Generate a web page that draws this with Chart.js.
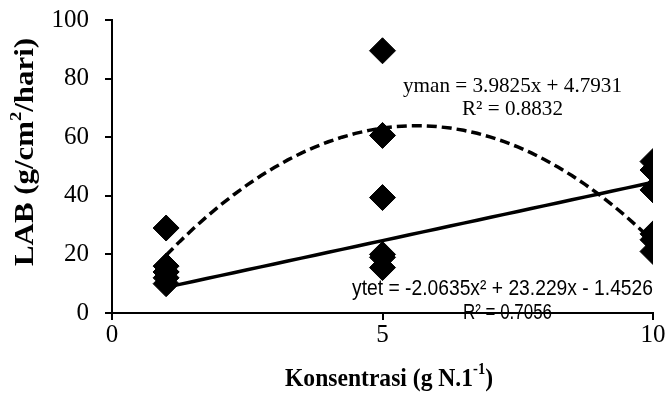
<!DOCTYPE html>
<html>
<head>
<meta charset="utf-8">
<script src="https://cdn.jsdelivr.net/npm/chart.js@4.4.1/dist/chart.umd.min.js"></script>
<style>
  html, body { margin: 0; padding: 0; background: #fff; }
  #wrap { width: 667px; height: 396px; }
</style>
</head>
<body>
<div id="wrap"><canvas id="c" width="667" height="396"></canvas></div>
<script>
// ---- data ----
const xCategories = [1, 5, 10];
const manX = [1, 1, 1, 5, 5, 5, 10, 10, 10];
const manY = [14, 12, 10, 20, 19, 15.5, 51.7, 48.8, 42];
const tetX = [1, 1, 1, 5, 5, 5, 10, 10, 10];
const tetY = [29, 16, 14, 89.5, 60.6, 39.4, 27, 25, 21];
// trend-line coefficients as printed in the chart
const manLinear = [3.9825, 4.7931];           // slope, intercept
const tetPoly = [-2.0635, 23.229, -1.4526];   // a, b, c
const xTicks = [0, 5, 10];
const yTicks = [0, 20, 40, 60, 80, 100];
const manLabel = ["yman = 3.9825x + 4.7931", "R² = 0.8832"];
const tetLabel = ["ytet = -2.0635x² + 23.229x - 1.4526", "R² = 0.7056"];
const xTitle = ["Konsentrasi (g N.1", "-1", ")"];
const yTitle = ["LAB (g/cm", "2", "/hari)"];

const pts = (xs, ys) => xs.map((x, i) => ({ x: x, y: ys[i] }));
const trendX = [];
for (let x = 1; x <= 10.0001; x += 0.25) trendX.push(+x.toFixed(2));
const linePts = trendX.map(x => ({ x: x, y: manLinear[0] * x + manLinear[1] }));
const polyPts = trendX.map(x => ({ x: x, y: tetPoly[0] * x * x + tetPoly[1] * x + tetPoly[2] }));

function drawRuns(ctx, runs, cx, cy, rot, targetW) {
  ctx.save();
  let total = 0;
  runs.forEach(r => { ctx.font = r.font; r.w = ctx.measureText(r.text).width; total += r.w; });
  const sx = targetW ? targetW / total : 1;
  ctx.translate(cx, cy);
  ctx.rotate(rot);
  ctx.scale(sx, 1);
  ctx.fillStyle = '#000';
  ctx.textBaseline = 'alphabetic';
  ctx.textAlign = 'left';
  let x = -total / 2;
  runs.forEach(r => { ctx.font = r.font; ctx.fillText(r.text, x, r.dy); x += r.w; });
  ctx.restore();
}

const textPlugin = {
  id: 'texts',
  beforeDraw(chart) {
    const ctx = chart.ctx;
    ctx.save();
    ctx.fillStyle = '#fff';
    ctx.fillRect(0, 0, chart.width, chart.height);
    ctx.restore();
    const serif = '"Liberation Serif", "Times New Roman", serif';
    const sans = '"Liberation Sans", Arial, sans-serif';
    drawRuns(ctx, [{ text: manLabel[0], font: '22px ' + serif, dy: 7 }], 512.5, 85, 0, 219);
    drawRuns(ctx, [{ text: manLabel[1], font: '22px ' + serif, dy: 7 }], 512.5, 108, 0, 101);
    drawRuns(ctx, [{ text: tetLabel[0], font: '22px ' + sans, dy: 7.5 }], 502.5, 287, 0, 301);
    drawRuns(ctx, [{ text: tetLabel[1], font: '22px ' + sans, dy: 7.5 }], 507.5, 311, 0, 89);
  },
  afterDraw(chart) {
    const ctx = chart.ctx;
    const serifB = 'bold 26px "Liberation Serif", "Times New Roman", serif';
    const serifBs = 'bold 16px "Liberation Serif", "Times New Roman", serif';
    drawRuns(ctx, [
      { text: xTitle[0], font: serifB, dy: 8.5 },
      { text: xTitle[1], font: serifBs, dy: -3 },
      { text: xTitle[2], font: serifB, dy: 8.5 }
    ], 389, 377, 0, 208);
    const serifBy = 'bold 28px "Liberation Serif", "Times New Roman", serif';
    const serifBys = 'bold 17px "Liberation Serif", "Times New Roman", serif';
    drawRuns(ctx, [
      { text: yTitle[0], font: serifBy, dy: 9 },
      { text: yTitle[1], font: serifBys, dy: -3 },
      { text: yTitle[2], font: serifBy, dy: 9 }
    ], 24, 152, -Math.PI / 2, 228);
  }
};

const tickFont = { family: '"Liberation Serif", "Times New Roman", serif', size: 25 };

new Chart(document.getElementById('c'), {
  type: 'scatter',
  data: {
    datasets: [
      { label: 'man fit', type: 'line', data: linePts, borderColor: '#000', borderWidth: 3.5,
        pointRadius: 0, fill: false, tension: 0, order: 3 },
      { label: 'tet fit', type: 'line', data: polyPts, borderColor: '#000', borderWidth: 3.5,
        borderDash: [10, 5], pointRadius: 0, fill: false, tension: 0, order: 3 },
      { label: 'man', data: pts(manX, manY), pointStyle: 'rectRot', pointRadius: 13,
        backgroundColor: '#000', borderColor: '#000', borderWidth: 1, order: 1 },
      { label: 'tet', data: pts(tetX, tetY), pointStyle: 'rectRot', pointRadius: 13,
        backgroundColor: '#000', borderColor: '#000', borderWidth: 1, order: 1 }
    ]
  },
  options: {
    responsive: false,
    devicePixelRatio: 1,
    animation: false,
    events: [],
    layout: { padding: { top: 20, right: 14, left: 0, bottom: 0 } },
    plugins: { legend: { display: false }, tooltip: { enabled: false } },
    scales: {
      x: {
        type: 'linear', min: 0, max: 10,
        afterBuildTicks: s => { s.ticks = xTicks.map(v => ({ value: v })); },
        ticks: { font: tickFont, color: '#000', padding: 0, maxRotation: 0 },
        grid: { drawOnChartArea: false, drawTicks: true, tickLength: 7, color: '#000', lineWidth: 2 },
        border: { display: true, color: '#000', width: 2 },
        afterFit: s => { s.height = 83; s.paddingLeft = 0; s.paddingRight = 0; }
      },
      y: {
        type: 'linear', min: 0, max: 100,
        afterBuildTicks: s => { s.ticks = yTicks.map(v => ({ value: v })); },
        ticks: { font: tickFont, color: '#000', padding: 16 },
        grid: { drawOnChartArea: false, drawTicks: true, tickLength: 7, color: '#000', lineWidth: 2 },
        border: { display: true, color: '#000', width: 2 },
        afterFit: s => { s.width = 112; s.paddingTop = 0; s.paddingBottom = 0; }
      }
    }
  },
  plugins: [textPlugin]
});
</script>
</body>
</html>
